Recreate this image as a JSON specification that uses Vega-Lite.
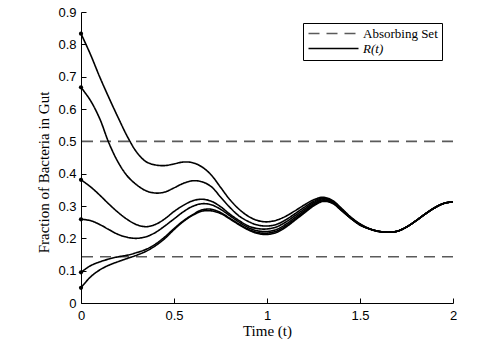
{
  "$schema": "https://vega.github.io/schema/vega-lite/v6.json",
  "width": 372,
  "height": 291,
  "autosize": "none",
  "padding": {"left": 81, "top": 12, "right": 44, "bottom": 43},
  "background": "white",
  "config": {
    "view": {"stroke": null},
    "axis": {
      "grid": false,
      "domainColor": "black",
      "tickColor": "black",
      "labelColor": "black",
      "labelFont": "Liberation Sans",
      "labelFontSize": 13,
      "labelFlush": false,
      "titleFont": "Liberation Serif",
      "titleFontSize": 15,
      "titleFontWeight": "normal",
      "titleColor": "black",
      "tickSize": -5,
      "domainWidth": 1,
      "tickWidth": 1
    },
    "legend": {
      "orient": "none",
      "legendX": 222,
      "legendY": 11,
      "strokeColor": "black",
      "fillColor": "white",
      "padding": 4,
      "rowPadding": 1,
      "symbolType": "M-1,0L9,0",
      "symbolSize": 100,
      "symbolStrokeWidth": 1.6,
      "labelOffset": 43,
      "labelFont": "Liberation Serif",
      "labelFontSize": 13,
      "labelColor": "black",
      "labelFontStyle": {"expr": "datum.label == 'R(t)' ? 'italic' : 'normal'"}
    }
  },
  "datasets": {
    "curves": [
      {"t": 0, "A": 0.833, "B": 0.667, "C": 0.381, "D": 0.259, "E": 0.095, "F": 0.047},
      {"t": 0.05, "A": 0.77, "B": 0.627, "C": 0.36, "D": 0.255, "E": 0.115, "F": 0.08},
      {"t": 0.1, "A": 0.7, "B": 0.571, "C": 0.334, "D": 0.243, "E": 0.127, "F": 0.102},
      {"t": 0.15, "A": 0.635, "B": 0.495, "C": 0.306, "D": 0.227, "E": 0.136, "F": 0.117},
      {"t": 0.2, "A": 0.573, "B": 0.435, "C": 0.28, "D": 0.212, "E": 0.143, "F": 0.128},
      {"t": 0.25, "A": 0.514, "B": 0.392, "C": 0.258, "D": 0.203, "E": 0.148, "F": 0.138},
      {"t": 0.3, "A": 0.466, "B": 0.365, "C": 0.242, "D": 0.2, "E": 0.156, "F": 0.148},
      {"t": 0.35, "A": 0.437, "B": 0.347, "C": 0.236, "D": 0.205, "E": 0.166, "F": 0.16},
      {"t": 0.4, "A": 0.427, "B": 0.34, "C": 0.243, "D": 0.218, "E": 0.182, "F": 0.177},
      {"t": 0.45, "A": 0.425, "B": 0.343, "C": 0.26, "D": 0.238, "E": 0.204, "F": 0.199},
      {"t": 0.5, "A": 0.43, "B": 0.356, "C": 0.283, "D": 0.26, "E": 0.23, "F": 0.227},
      {"t": 0.55, "A": 0.436, "B": 0.37, "C": 0.302, "D": 0.282, "E": 0.254, "F": 0.252},
      {"t": 0.6, "A": 0.434, "B": 0.378, "C": 0.316, "D": 0.299, "E": 0.273, "F": 0.271},
      {"t": 0.65, "A": 0.421, "B": 0.375, "C": 0.321, "D": 0.307, "E": 0.288, "F": 0.284},
      {"t": 0.7, "A": 0.396, "B": 0.36, "C": 0.315, "D": 0.304, "E": 0.29, "F": 0.285},
      {"t": 0.75, "A": 0.358, "B": 0.328, "C": 0.298, "D": 0.29, "E": 0.28, "F": 0.277},
      {"t": 0.8, "A": 0.32, "B": 0.296, "C": 0.275, "D": 0.27, "E": 0.262, "F": 0.26},
      {"t": 0.85, "A": 0.29, "B": 0.269, "C": 0.255, "D": 0.25, "E": 0.244, "F": 0.242},
      {"t": 0.9, "A": 0.268, "B": 0.252, "C": 0.238, "D": 0.233, "E": 0.228, "F": 0.226},
      {"t": 0.95, "A": 0.255, "B": 0.241, "C": 0.23, "D": 0.223, "E": 0.218, "F": 0.215},
      {"t": 1.0, "A": 0.251, "B": 0.238, "C": 0.229, "D": 0.221, "E": 0.216, "F": 0.212},
      {"t": 1.05, "A": 0.256, "B": 0.243, "C": 0.235, "D": 0.227, "E": 0.222, "F": 0.218},
      {"t": 1.1, "A": 0.268, "B": 0.257, "C": 0.25, "D": 0.243, "E": 0.238, "F": 0.234},
      {"t": 1.15, "A": 0.285, "B": 0.276, "C": 0.27, "D": 0.264, "E": 0.259, "F": 0.256},
      {"t": 1.2, "A": 0.303, "B": 0.296, "C": 0.29, "D": 0.285, "E": 0.281, "F": 0.278},
      {"t": 1.25, "A": 0.319, "B": 0.314, "C": 0.31, "D": 0.306, "E": 0.303, "F": 0.3},
      {"t": 1.3, "A": 0.327, "B": 0.325, "C": 0.322, "D": 0.319, "E": 0.316, "F": 0.314},
      {"t": 1.35, "A": 0.318, "B": 0.316, "C": 0.314, "D": 0.312, "E": 0.31, "F": 0.309},
      {"t": 1.4, "A": 0.293, "B": 0.291, "C": 0.289, "D": 0.288, "E": 0.287, "F": 0.286},
      {"t": 1.45, "A": 0.266, "B": 0.265, "C": 0.264, "D": 0.263, "E": 0.262, "F": 0.262},
      {"t": 1.5, "A": 0.245, "B": 0.244, "C": 0.243, "D": 0.242, "E": 0.242, "F": 0.241},
      {"t": 1.55, "A": 0.23, "B": 0.23, "C": 0.23, "D": 0.23, "E": 0.229, "F": 0.229},
      {"t": 1.6, "A": 0.222, "B": 0.222, "C": 0.222, "D": 0.222, "E": 0.221, "F": 0.221},
      {"t": 1.65, "A": 0.219, "B": 0.219, "C": 0.219, "D": 0.219, "E": 0.219, "F": 0.219},
      {"t": 1.7, "A": 0.222, "B": 0.222, "C": 0.222, "D": 0.222, "E": 0.222, "F": 0.222},
      {"t": 1.75, "A": 0.235, "B": 0.235, "C": 0.235, "D": 0.235, "E": 0.235, "F": 0.235},
      {"t": 1.8, "A": 0.254, "B": 0.254, "C": 0.254, "D": 0.254, "E": 0.254, "F": 0.254},
      {"t": 1.85, "A": 0.275, "B": 0.275, "C": 0.275, "D": 0.275, "E": 0.275, "F": 0.275},
      {"t": 1.9, "A": 0.294, "B": 0.294, "C": 0.294, "D": 0.294, "E": 0.294, "F": 0.294},
      {"t": 1.95, "A": 0.308, "B": 0.308, "C": 0.308, "D": 0.308, "E": 0.308, "F": 0.308},
      {"t": 2.0, "A": 0.313, "B": 0.313, "C": 0.313, "D": 0.313, "E": 0.313, "F": 0.313}
    ],
    "absorbing": [{"y": 0.5}, {"y": 0.143}]
  },
  "layer": [
    {
      "data": {"name": "absorbing"},
      "mark": {"type": "rule", "strokeWidth": 1.6},
      "encoding": {
        "y": {"field": "y", "type": "quantitative"},
        "color": {
          "datum": "Absorbing Set",
          "type": "nominal",
          "scale": {"domain": ["Absorbing Set", "R(t)"], "range": ["#5a5a5a", "#000000"]},
          "legend": {"title": null}
        },
        "strokeDash": {
          "datum": "Absorbing Set",
          "type": "nominal",
          "scale": {"domain": ["Absorbing Set", "R(t)"], "range": [[11, 7], [1, 0]]},
          "legend": {"title": null}
        }
      }
    },
    {
      "data": {"name": "curves"},
      "transform": [{"fold": ["A", "B", "C", "D", "E", "F"], "as": ["k", "v"]}],
      "mark": {"type": "line", "strokeWidth": 1.6, "interpolate": "catmull-rom"},
      "encoding": {
        "x": {"field": "t", "type": "quantitative"},
        "y": {"field": "v", "type": "quantitative"},
        "detail": {"field": "k"},
        "color": {"datum": "R(t)", "type": "nominal"},
        "strokeDash": {"datum": "R(t)", "type": "nominal"}
      }
    },
    {
      "data": {"name": "curves"},
      "transform": [
        {"filter": "datum.t == 0"},
        {"fold": ["A", "B", "C", "D", "E", "F"], "as": ["k", "v"]}
      ],
      "mark": {"type": "point", "filled": true, "size": 18, "opacity": 1, "color": "black"},
      "encoding": {
        "x": {"field": "t", "type": "quantitative"},
        "y": {"field": "v", "type": "quantitative"}
      }
    }
  ],
  "encoding": {
    "x": {
      "type": "quantitative",
      "scale": {"domain": [0, 2], "nice": false},
      "axis": {
        "values": [0, 0.5, 1, 1.5, 2],
        "format": "~g",
        "labelPadding": 11,
        "title": "Time (t)",
        "titleY": 32,
        "titleBaseline": "alphabetic"
      }
    },
    "y": {
      "type": "quantitative",
      "scale": {"domain": [0, 0.9], "nice": false},
      "axis": {
        "values": [0, 0.1, 0.2, 0.3, 0.4, 0.5, 0.6, 0.7, 0.8, 0.9],
        "format": "~g",
        "labelPadding": 10,
        "title": "Fraction of Bacteria in Gut",
        "titleX": -30,
        "titleY": 160,
        "titleAngle": 270,
        "titleBaseline": "bottom",
        "titleAlign": "center"
      }
    }
  },
  "resolve": {"scale": {"color": "shared", "strokeDash": "shared"}}
}
